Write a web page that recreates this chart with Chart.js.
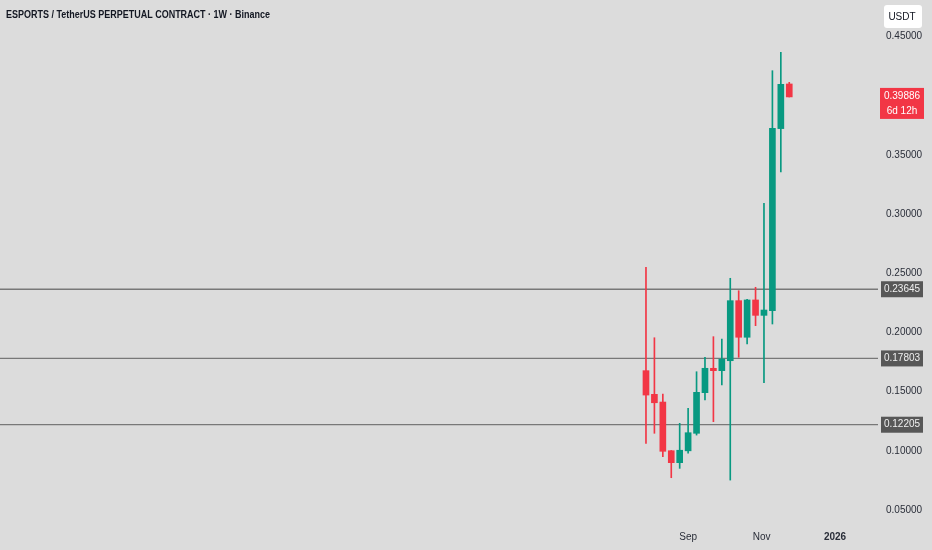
<!DOCTYPE html>
<html>
<head>
<meta charset="utf-8">
<script src="https://cdn.jsdelivr.net/npm/chart.js@4.4.1/dist/chart.umd.min.js"></script>
<style>
  html, body { margin: 0; padding: 0; background: #dcdcdc; }
  #wrap { width: 932px; height: 550px; position: relative; }
</style>
</head>
<body>
<div id="wrap"><canvas id="myChart"></canvas></div>
<script>
// weekly candles, week start dates
const weeks = [
    "2025-07-28", "2025-08-04", "2025-08-11", "2025-08-18", "2025-08-25",
    "2025-09-01", "2025-09-08", "2025-09-15", "2025-09-22", "2025-09-29",
    "2025-10-06", "2025-10-13", "2025-10-20", "2025-10-27", "2025-11-03",
    "2025-11-10", "2025-11-17", "2025-11-24",
];
const opens  = [0.1677, 0.1477, 0.1412, 0.1001, 0.0900, 0.1000, 0.1148, 0.1491, 0.1697, 0.1677, 0.1761, 0.2268, 0.1959, 0.2274, 0.2144, 0.2183, 0.3721, 0.4098];
const highs  = [0.2550, 0.1955, 0.1480, 0.1003, 0.1232, 0.1359, 0.1668, 0.1790, 0.1964, 0.1944, 0.2457, 0.2352, 0.2280, 0.2381, 0.3090, 0.4210, 0.4366, 0.4112];
const lows   = [0.1063, 0.1148, 0.0950, 0.0773, 0.0852, 0.0980, 0.1133, 0.1429, 0.1246, 0.1556, 0.0753, 0.1790, 0.1902, 0.2057, 0.1575, 0.2071, 0.3355, 0.3988];
const closes = [0.1471, 0.1406, 0.0996, 0.0900, 0.1005, 0.1153, 0.1494, 0.1697, 0.1677, 0.1775, 0.2268, 0.1959, 0.2274, 0.2144, 0.2189, 0.3724, 0.4095, 0.39886];

const levels = [0.23645, 0.17803, 0.12205];
const yTicks = [0.05, 0.10, 0.15, 0.20, 0.25, 0.30, 0.35, 0.40, 0.45];
const xTickDates = ["2025-09-01", "2025-11-01", "2026-01-01"];
const xTickLabels = ["Sep", "Nov", "2026"];

const UP = "#089981";
const DOWN = "#f23645";
const FONT = "'Liberation Sans', Arial, sans-serif";
const TITLE = "ESPORTS / TetherUS PERPETUAL CONTRACT \u00b7 1W \u00b7 Binance";

// days since first candle
const t0 = Date.parse(weeks[0]);
const day = d => (Date.parse(d) - t0) / 86400000;
const xs = weeks.map(day);
const colors = opens.map((o, i) => closes[i] >= o ? UP : DOWN);

const X_MIN = -536.5, X_MAX = 192.7;
const Y_MIN = 0.0399, Y_MAX = 0.4807;

const levelSets = levels.map(v => ({
    type: "line",
    data: [{ x: X_MIN, y: v }, { x: X_MAX, y: v }],
    borderColor: "#787878",
    borderWidth: 1.3,
    pointRadius: 0,
    order: 3,
}));

const noPad = s => { s.paddingTop = 0; s.paddingBottom = 0; s.paddingLeft = 0; s.paddingRight = 0; };

const overlay = {
    id: "overlay",
    afterDraw(chart) {
        const c = chart.ctx;
        const ys = chart.scales.y;
        const right = chart.chartArea.right;
        c.save();
        // title, squeezed to the narrow look of the original
        c.fillStyle = "#131722";
        c.font = "bold 11px " + FONT;
        c.textAlign = "left";
        c.textBaseline = "middle";
        const k = 264 / c.measureText(TITLE).width;
        c.save();
        c.translate(6, 15);
        c.scale(k, 1);
        c.fillText(TITLE, 0, 0);
        c.restore();

        // currency box
        c.fillStyle = "#ffffff";
        c.beginPath();
        c.roundRect(884, 5, 38, 23, 3);
        c.fill();
        c.fillStyle = "#131722";
        c.font = "10px " + FONT;
        c.textAlign = "center";
        c.fillText("USDT", 902, 17);

        // level labels
        levels.forEach(v => {
            const y = ys.getPixelForValue(v);
            c.fillStyle = "#575757";
            c.fillRect(right + 3, y - 8, 42, 16);
            c.fillStyle = "#f0f0f0";
            c.textAlign = "center";
            c.fillText(v.toFixed(5), right + 24, y);
        });

        // last price
        const last = closes[closes.length - 1];
        const ly = ys.getPixelForValue(last);
        c.fillStyle = DOWN;
        c.fillRect(right + 2, ly - 9, 44, 31);
        c.fillStyle = "#ffffff";
        c.fillText(last.toFixed(5), right + 24, ly - 1);
        c.fillText("6d 12h", right + 24, ly + 14);
        c.restore();
    },
};

const ctx = document.getElementById("myChart").getContext("2d");
const myChart = new Chart(ctx, {
    type: "bar",
    data: {
        datasets: [
            ...levelSets,
            {
                data: xs.map((x, i) => ({ x, y: [lows[i], highs[i]] })),
                backgroundColor: colors,
                barThickness: 1,
                grouped: false,
                order: 2,
            },
            {
                data: xs.map((x, i) => ({ x, y: [opens[i], closes[i]] })),
                backgroundColor: colors,
                barThickness: 6,
                grouped: false,
                order: 1,
            },
        ],
    },
    options: {
        responsive: true,
        maintainAspectRatio: false,
        animation: false,
        layout: { padding: 0 },
        plugins: { legend: { display: false }, tooltip: { enabled: false } },
        scales: {
            x: {
                type: "linear",
                min: X_MIN,
                max: X_MAX,
                offset: false,
                grid: { display: false, drawTicks: false },
                border: { display: false },
                afterBuildTicks: s => { s.ticks = xTickDates.map(d => ({ value: day(d) })); },
                afterFit: s => { s.height = 28; noPad(s); },
                ticks: {
                    autoSkip: false,
                    maxRotation: 0,
                    padding: 9,
                    color: "#2a2e39",
                    font: c => ({ family: FONT, size: 10, weight: c.index === 2 ? "bold" : "normal" }),
                    callback: (v, i) => xTickLabels[i],
                },
            },
            y: {
                position: "right",
                min: Y_MIN,
                max: Y_MAX,
                grid: { display: false, drawTicks: false },
                border: { display: false },
                afterBuildTicks: s => { s.ticks = yTicks.map(v => ({ value: v })); },
                afterFit: s => { s.width = 54; noPad(s); },
                ticks: {
                    padding: 8,
                    color: "#2a2e39",
                    font: { family: FONT, size: 10 },
                    callback: v => v.toFixed(5),
                },
            },
        },
    },
    plugins: [overlay],
});
</script>
</body>
</html>
